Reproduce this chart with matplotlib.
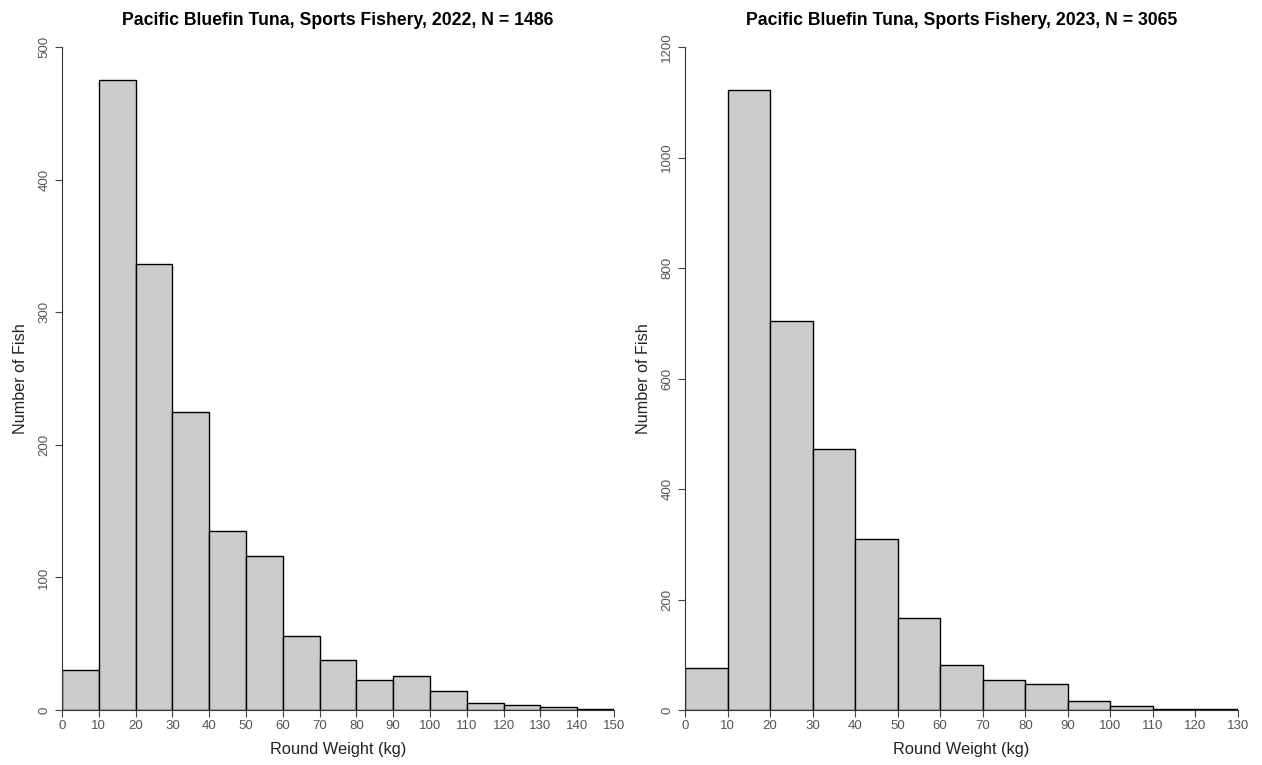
import matplotlib
matplotlib.use("Agg")
import matplotlib.pyplot as plt
import numpy as np

plt.rcParams['font.family'] = ['Liberation Sans', 'DejaVu Sans']

bins_2022 = list(range(0, 150, 10))
counts_2022 = [30, 475, 336, 225, 135, 116, 56, 38, 23, 26, 14, 5, 4, 2, 1]
bins_2023 = list(range(0, 130, 10))
counts_2023 = [76, 1122, 704, 472, 310, 167, 81, 54, 47, 16, 7, 2, 2]

titles = ["Pacific Bluefin Tuna, Sports Fishery, 2022, N = 1486",
          "Pacific Bluefin Tuna, Sports Fishery, 2023, N = 3065"]
xlabel = "Round Weight (kg)"
ylabel = "Number of Fish"
xmax = [150, 130]
ymax = [500, 1200]
ystep = [100, 200]

W, H = 1262, 765
fig = plt.figure(figsize=(W / 100, H / 100), dpi=100)

rects = [(62, 47, 614, 710), (685, 47, 1238, 710)]
data = [(bins_2022, counts_2022), (bins_2023, counts_2023)]
tick_gray = '#555555'

for i, ((x0, y0, x1, y1), (b, c)) in enumerate(zip(rects, data)):
    ax = fig.add_axes([x0 / W, 1 - y1 / H, (x1 - x0) / W, (y1 - y0) / H])
    ax.bar(b, c, width=10, align='edge', color='#cccccc', edgecolor='black', linewidth=1.0)
    ax.set_xlim(0, xmax[i])
    ax.set_ylim(0, ymax[i])
    for s in ['top', 'right']:
        ax.spines[s].set_visible(False)
    ax.spines['left'].set_bounds(0, ymax[i])
    ax.spines['bottom'].set_bounds(0, xmax[i])
    ax.spines['left'].set_color('#333333')
    ax.spines['bottom'].set_color('#333333')
    ax.set_xticks(np.arange(0, xmax[i] + 1, 10))
    ax.set_yticks(np.arange(0, ymax[i] + 1, ystep[i]))
    ax.tick_params(axis='both', colors='#444444', labelcolor=tick_gray, labelsize=9.5, length=5, width=0.8)
    ax.tick_params(axis='x', pad=2.5)
    for lab in ax.get_yticklabels():
        lab.set_rotation(90)
        lab.set_va('center')
    ax.set_xlabel(xlabel, fontsize=11.8, color='#222222', labelpad=7)
    ax.set_ylabel(ylabel, fontsize=11.6, color='#222222', labelpad=7)
    ax.set_title(titles[i], fontsize=12.7, fontweight='bold', pad=16)

fig.savefig("out.png", dpi=100)
